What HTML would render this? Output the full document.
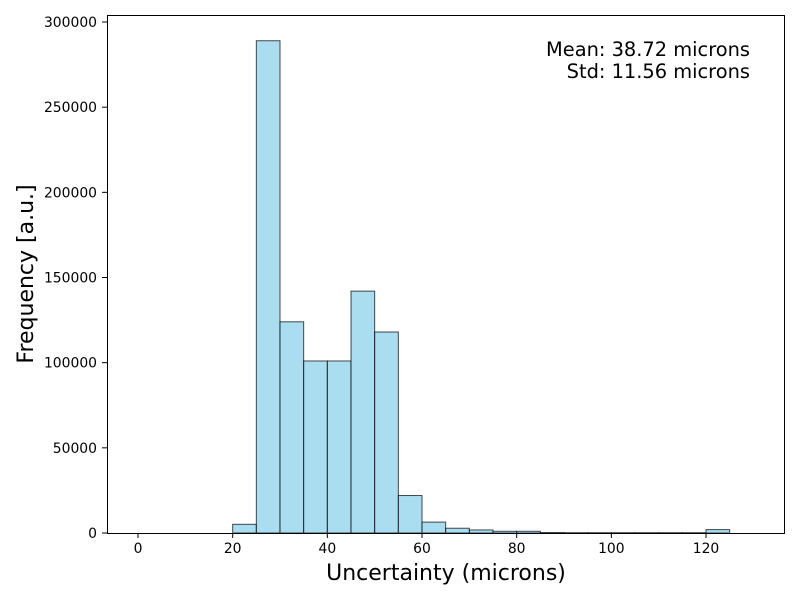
<!DOCTYPE html>
<html><head><meta charset="utf-8"><style>
body{margin:0;background:#fff;font-family:"DejaVu Sans","Liberation Sans",sans-serif}
</style></head><body>
<svg id="chart" width="800" height="600" xmlns="http://www.w3.org/2000/svg" font-family="DejaVu Sans, Liberation Sans, sans-serif">
<g id="bars"></g>
<g id="axes"></g>
<rect x="107.5" y="15.5" width="677" height="518" fill="none" stroke="#000" stroke-width="1"/>
<text x="446" y="580" font-size="22" text-anchor="middle">Uncertainty (microns)</text>
<text transform="translate(33,274) rotate(-90)" font-size="22" text-anchor="middle">Frequency [a.u.]</text>
<text x="750" y="56" font-size="19.4" text-anchor="end">Mean: 38.72 microns</text>
<text x="750" y="78" font-size="19.4" text-anchor="end">Std: 11.56 microns</text>
</svg>
<script>
const binEdgesStart = [0,5,10,15,20,25,30,35,40,45,50,55,60,65,70,75,80,85,90,95,100,105,110,115,120,125];
const binWidth = 5;
const counts = [0,0,0,0,5100,289000,124000,101000,101000,142000,118000,22000,6400,2800,1800,1000,1000,300,200,200,200,200,200,200,2000,0];
const xTicks = [0,20,40,60,80,100,120];
const yTicks = [0,50000,100000,150000,200000,250000,300000];
const xs = v => 138 + v*(94.67/20);
const ys = v => 533 - v*(511/300000);
const NS = "http://www.w3.org/2000/svg";
const bars = document.getElementById('bars'), axes = document.getElementById('axes');
binEdgesStart.forEach((b,i)=>{
  const r = document.createElementNS(NS,'rect');
  
  
  const x0 = xs(b), x1 = xs(b+binWidth), y = ys(counts[i]);
  r.setAttribute('x',x0); r.setAttribute('width',x1-x0);
  r.setAttribute('y',y); r.setAttribute('height',533-y);
  r.setAttribute('fill','rgba(135,206,235,0.7)');
  r.setAttribute('stroke','rgba(0,0,0,0.7)');
  r.setAttribute('stroke-width','1');
  bars.appendChild(r);
});
xTicks.forEach(t=>{
  const x = xs(t);
  const l = document.createElementNS(NS,'line');
  
  
  l.setAttribute('x1',x);l.setAttribute('x2',x);l.setAttribute('y1',533);l.setAttribute('y2',538);l.setAttribute('stroke','#000');
  axes.appendChild(l);
  const tx = document.createElementNS(NS,'text');
  
  
  tx.setAttribute('x',x);tx.setAttribute('y',553);tx.setAttribute('font-size','13.9');tx.setAttribute('text-anchor','middle');
  tx.textContent=t; axes.appendChild(tx);
});
yTicks.forEach(t=>{
  const y = ys(t);
  const l = document.createElementNS(NS,'line');
  
  
  l.setAttribute('x1',102);l.setAttribute('x2',107);l.setAttribute('y1',y);l.setAttribute('y2',y);l.setAttribute('stroke','#000');
  axes.appendChild(l);
  const tx = document.createElementNS(NS,'text');
  
  
  tx.setAttribute('x',97);tx.setAttribute('y',y+5);tx.setAttribute('font-size','13.9');tx.setAttribute('text-anchor','end');
  tx.textContent=t; axes.appendChild(tx);
});
</script>
</body></html>
